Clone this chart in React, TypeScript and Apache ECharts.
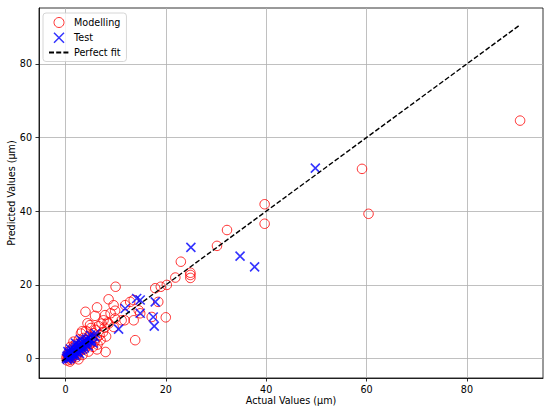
import React, { useEffect, useRef } from "react";
import * as echarts from "echarts";

// Modelling set: [actual, predicted]
const modellingPoints: number[][] = [
  [90.6, 64.6], [59.1, 51.5], [60.4, 39.3], [39.7, 41.9], [39.7, 36.6],
  [32.2, 34.9], [30.2, 30.6], [24.9, 23.3], [24.9, 22.7], [24.9, 21.9],
  [23.0, 26.3], [21.9, 22.0], [20.2, 20.0], [19.0, 19.5], [17.9, 19.1],
  [10.0, 19.5], [20.0, 11.2], [17.2, 11.3], [18.5, 15.4], [13.6, 15.9],
  [12.9, 15.4], [14.6, 13.1], [14.9, 12.3], [11.9, 14.5], [11.2, 10.4],
  [9.9, 13.0], [13.9, 5.0], [8.0, 1.8], [8.6, 16.1], [9.6, 14.5],
  [6.3, 13.9], [4.0, 12.7], [9.0, 12.3], [7.9, 11.8], [5.9, 11.6],
  [9.9, 10.9], [7.6, 10.4], [8.6, 9.5], [4.9, 9.1], [9.6, 8.6],
  [11.8, 10.4], [13.6, 10.4],
  [0.2, 0.3], [0.3, -0.5], [0.5, 1.2], [0.6, 0.1], [0.8, 2.0], [1.0, 0.6],
  [1.1, -0.3], [1.2, 1.5], [1.4, 2.8], [1.5, 0.9], [1.7, 3.5], [1.8, 1.2],
  [2.0, 2.2], [2.1, 4.0], [2.2, 0.4], [2.4, 2.9], [2.5, 1.6], [2.7, 5.2],
  [2.8, 3.3], [3.0, 2.1], [3.1, 6.8], [3.2, 4.4], [3.4, 1.0], [3.5, 3.0],
  [3.6, 5.6], [3.8, 2.6], [4.0, 4.2], [4.1, 7.5], [4.3, 3.4], [4.5, 5.1],
  [4.6, 1.9], [4.8, 6.2], [5.0, 4.0], [5.1, 8.3], [5.3, 5.5], [5.5, 3.2],
  [5.6, 6.9], [5.8, 4.6], [6.0, 7.8], [6.2, 5.6], [6.4, 3.8], [6.6, 8.8],
  [6.8, 6.4], [7.0, 5.0], [7.2, 9.5], [7.5, 7.2], [7.8, 8.4], [8.1, 6.0],
  [8.4, 9.8], [1.0, 3.2], [0.4, 0.8], [2.6, -0.2], [1.6, 4.6], [3.3, 7.4],
  [6.3, 2.5], [4.4, 9.6], [0.9, -0.8], [1.3, 0.2], [2.3, 1.0], [3.7, 3.8],
];

// Test set: [actual, predicted]
const testPoints: number[][] = [
  [49.8, 51.7], [25.0, 30.2], [34.8, 27.8], [37.7, 24.9], [14.2, 16.3],
  [14.9, 15.9], [17.9, 15.4], [11.9, 13.6], [14.9, 12.3], [17.5, 11.3],
  [17.7, 8.8], [10.6, 8.0],
  [0.2, 0.1], [0.3, 0.6], [0.4, -0.2], [0.5, 0.9], [0.6, 0.3], [0.7, 1.4],
  [0.8, 0.7], [0.9, 0.0], [1.0, 1.1], [1.1, 1.8], [1.2, 0.5], [1.3, 1.3],
  [1.4, 2.2], [1.5, 0.9], [1.6, 1.6], [1.7, 2.6], [1.8, 1.2], [1.9, 2.0],
  [2.0, 0.7], [2.1, 2.9], [2.2, 1.6], [2.3, 2.3], [2.4, 3.3], [2.5, 1.9],
  [2.6, 2.7], [2.7, 3.7], [2.8, 1.4], [2.9, 3.0], [3.0, 2.3], [3.1, 4.1],
  [3.2, 3.4], [3.4, 2.6], [3.5, 4.6], [3.6, 3.6], [3.8, 2.9], [3.9, 4.8],
  [4.0, 3.9], [4.2, 5.3], [4.3, 4.3], [4.5, 3.4], [4.7, 5.6], [4.9, 4.6],
  [5.0, 6.3], [5.2, 5.1], [5.5, 4.2], [5.8, 5.9], [6.0, 6.8], [1.0, 2.6],
  [2.0, 4.2], [0.5, 1.9], [3.0, 5.2],
];

// Perfect fit line endpoints
const fitLine: number[][] = [
  [-0.7, -0.7],
  [90.6, 90.6],
];

const xTicks = [0, 20, 40, 60, 80];
const yTicks = [0, 20, 40, 60, 80];
const axisMin = -5.265;
const axisMax = 95.165;

const FONT = "DejaVu Sans";

export default function App() {
  const ref = useRef<HTMLDivElement>(null);

  useEffect(() => {
    if (!ref.current) return;
    const chart = echarts.init(ref.current, undefined, { renderer: "svg" });
    const axisCommon = {
      type: "value",
      min: axisMin,
      max: axisMax,
      nameLocation: "middle",
      nameMoveOverlap: false,
      nameTextStyle: { fontFamily: FONT, fontSize: 9.6, color: "#000" },
      axisLine: { show: true, onZero: false, lineStyle: { color: "#000", width: 0.8 } },
      axisTick: {
        show: true,
        inside: false,
        length: 3.5,
        lineStyle: { color: "#000", width: 0.8 },
      },
      axisLabel: {
        fontFamily: FONT,
        fontSize: 9.6,
        color: "#000",
        margin: 7,
      },
      splitLine: { show: true, lineStyle: { color: "#b0b0b0", width: 0.8 } },
    };
    chart.setOption({
      animation: false,
      backgroundColor: "#fff",
      grid: {
        left: 39,
        right: 7,
        top: 8,
        bottom: 35,
        outerBoundsMode: "none",
        containLabel: false,
        show: true,
        borderColor: "#000",
        borderWidth: 0.8,
        backgroundColor: "transparent",
      },
      legend: {
        orient: "vertical",
        left: 43,
        top: 13,
        padding: [4, 6, 4, 5],
        itemGap: 4,
        itemWidth: 20,
        itemHeight: 10,
        backgroundColor: "rgba(255,255,255,0.8)",
        borderColor: "#cccccc",
        borderWidth: 0.8,
        borderRadius: 3,
        textStyle: { fontFamily: FONT, fontSize: 9.6, color: "#000" },
        data: [
          {
            name: "Modelling",
            icon: "circle",
            itemStyle: { color: "transparent", borderColor: "#ff0000", borderWidth: 1 },
          },
          {
            name: "Test",
            icon: "path://M0,0L10,10M10,0L0,10",
            itemStyle: { color: "#0000ff", borderColor: "#0000ff", borderWidth: 1.5 },
          },
          {
            name: "Perfect fit",
            itemStyle: { color: "transparent", borderColor: "transparent", borderWidth: 0 },
          },
        ],
      },
      xAxis: {
        ...axisCommon,
        name: "Actual Values (μm)",
        nameGap: 17.5,
        axisTick: { ...axisCommon.axisTick, customValues: xTicks },
        axisLabel: { ...axisCommon.axisLabel, margin: 6, customValues: xTicks },
      },
      yAxis: {
        ...axisCommon,
        name: "Predicted Values (μm)",
        nameGap: 22.5,
        axisTick: { ...axisCommon.axisTick, customValues: yTicks },
        axisLabel: { ...axisCommon.axisLabel, customValues: yTicks },
      },
      series: [
        {
          name: "Modelling",
          type: "scatter",
          data: modellingPoints,
          symbol: "circle",
          symbolSize: 9.5,
          itemStyle: { color: "transparent", borderColor: "#ff0000", borderWidth: 1 },
          emphasis: { disabled: true },
        },
        {
          name: "Test",
          type: "scatter",
          data: testPoints,
          symbol: "path://M0,0L10,10M10,0L0,10",
          symbolSize: 9,
          itemStyle: { color: "#0000ff", borderColor: "#0000ff", borderWidth: 1.6 },
          emphasis: { disabled: true },
        },
        {
          name: "Perfect fit",
          type: "line",
          data: fitLine,
          symbol: "none",
          lineStyle: { color: "#000", width: 1.4, type: [5, 2.2] },
          itemStyle: { color: "#000" },
          z: 3,
        },
      ],
    });
    return () => chart.dispose();
  }, []);

  return (
    <div
      ref={ref}
      style={{ position: "absolute", left: 0, top: 0, width: 550, height: 413 }}
    />
  );
}
